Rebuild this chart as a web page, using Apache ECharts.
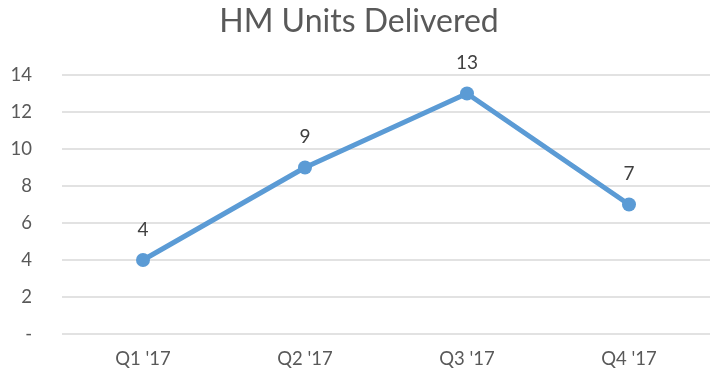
<!DOCTYPE html>
<html>
<head>
<meta charset="utf-8">
<script src="https://cdn.jsdelivr.net/npm/echarts@6/dist/echarts.min.js"></script>
<style>
  html, body { margin: 0; padding: 0; background: #fff; }
  #chart { width: 718px; height: 388px; }
</style>
</head>
<body>
<div id="chart"></div>
<script>
// Quarterly deliveries
const quarters = ["Q1 '17", "Q2 '17", "Q3 '17", "Q4 '17"];
const unitsDelivered = [4, 9, 13, 7];

const font = 'Lato, "Open Sans", sans-serif';
const chart = echarts.init(document.getElementById('chart'));
chart.setOption({
  animation: false,
  title: {
    text: 'HM Units Delivered',
    left: 'center',
    top: 1,
    textStyle: { fontFamily: font, fontSize: 32, fontWeight: 'normal', color: '#595959' }
  },
  grid: { left: 62, right: 8, top: 75, bottom: 54 },
  xAxis: {
    type: 'category',
    data: quarters,
    boundaryGap: true,
    axisLine: { show: false },
    axisTick: { show: false },
    axisLabel: { fontFamily: font, fontSize: 18.5, color: '#595959', margin: 16 }
  },
  yAxis: {
    type: 'value',
    min: 0,
    max: 14,
    interval: 2,
    axisLine: { show: false },
    axisTick: { show: false },
    splitLine: { lineStyle: { color: '#D9D9D9', width: 1.5 } },
    axisLabel: {
      fontFamily: font, fontSize: 18.5, color: '#595959', margin: 30,
      formatter: v => (v === 0 ? '-' : String(v))
    }
  },
  series: [{
    type: 'line',
    data: unitsDelivered,
    symbol: 'circle',
    symbolSize: 14,
    lineStyle: { color: '#5B9BD5', width: 5 },
    itemStyle: { color: '#5B9BD5' },
    label: {
      show: true,
      position: 'top',
      distance: 14,
      fontFamily: font,
      fontSize: 19,
      color: '#404040'
    }
  }]
});
</script>
</body>
</html>
